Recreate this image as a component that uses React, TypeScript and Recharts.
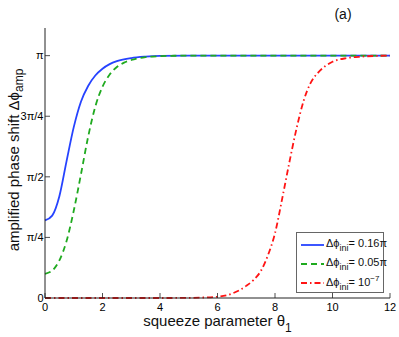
import React from "react";
import { LineChart, Line, XAxis, YAxis, Label } from "recharts";

// phase values are in units of pi
const thetaBlue = [0, 0.25, 0.5, 0.75, 1, 1.25, 1.5, 1.75, 2, 2.25, 2.5, 3, 3.5, 4, 5, 6, 8, 10, 12];
const phaseBlue = [0.32, 0.34, 0.42, 0.565, 0.705, 0.81, 0.875, 0.918, 0.946, 0.965, 0.977, 0.99, 0.996, 0.999, 1, 1, 1, 1, 1];

const thetaGreen = [0, 0.25, 0.5, 0.75, 1, 1.25, 1.5, 1.75, 2, 2.25, 2.5, 2.75, 3, 3.5, 4, 4.5, 5, 6, 8, 10, 12];
const phaseGreen = [0.1, 0.113, 0.155, 0.235, 0.36, 0.51, 0.665, 0.79, 0.872, 0.922, 0.953, 0.971, 0.982, 0.994, 0.998, 0.9995, 1, 1, 1, 1, 1];

const thetaRed = [0, 1, 2, 3, 4, 5, 5.5, 6, 6.5, 7, 7.25, 7.5, 7.75, 8, 8.25, 8.5, 8.75, 9, 9.25, 9.5, 9.75, 10, 10.5, 11, 11.5, 12];
const phaseRed = [0, 0, 0, 0, 0, 0.0005, 0.002, 0.005, 0.018, 0.05, 0.074, 0.11, 0.175, 0.267, 0.41, 0.56, 0.70, 0.815, 0.89, 0.93, 0.957, 0.975, 0.99, 0.996, 0.999, 1];

const xTicks = [0, 2, 4, 6, 8, 10, 12];
const yTicks = [0, 0.25, 0.5, 0.75, 1];
const yTickLabels = ["0", "\u03c0/4", "\u03c0/2", "3\u03c0/4", "\u03c0"];

const legendValues = ["= 0.16\u03c0", "= 0.05\u03c0", "= 10"];

const toRows = (xs: number[], ys: number[]) => xs.map((t, i) => ({ theta: t, phase: ys[i] }));

const series = [
  { key: "blue", data: toRows(thetaBlue, phaseBlue), color: "#2643ff", dash: undefined, label: legendValues[0] },
  { key: "green", data: toRows(thetaGreen, phaseGreen), color: "#1faa1f", dash: "6 4", label: legendValues[1] },
  { key: "red", data: toRows(thetaRed, phaseRed), color: "#ff1414", dash: "6 3 1.5 3", label: legendValues[2] },
];

const FONT = "'Liberation Sans', Arial, Helvetica, sans-serif";
const AXIS = "#222";
const PHI = "\u0394\u03d5";
const yMax = 3.5 / Math.PI;

const BottomTick = (p: any) => (
  <g>
    <line x1={p.x} x2={p.x} y1={p.y - 5} y2={p.y - 10} stroke={AXIS} strokeWidth={0.8} />
    <text x={p.x} y={p.y} dy="0.71em" textAnchor="middle" fontSize={11} fontFamily={FONT} fill="#000">
      {p.payload.value}
    </text>
  </g>
);

const LeftTick = (p: any) => {
  const idx = yTicks.indexOf(p.payload.value);
  return (
    <g>
      <line x1={p.x + 1.5} x2={p.x + 6.5} y1={p.y} y2={p.y} stroke={AXIS} strokeWidth={0.8} />
      <text x={p.x} y={p.y} dy="0.35em" textAnchor="end" fontSize={11} fontFamily={FONT} fill="#000">
        {yTickLabels[idx]}
      </text>
    </g>
  );
};

const TopTick = (p: any) => (
  <line x1={p.x} x2={p.x} y1={p.y} y2={p.y + 5} stroke={AXIS} strokeWidth={0.8} />
);

const RightTick = (p: any) => (
  <line x1={p.x - 5} x2={p.x} y1={p.y} y2={p.y} stroke={AXIS} strokeWidth={0.8} />
);

export default function App() {
  return (
    <div style={{ position: "absolute", left: 0, top: 0, width: 399, height: 337, background: "#fff" }}>
      <LineChart width={399} height={337} margin={{ top: 28, right: 9, left: 0, bottom: 0 }}>
        <XAxis
          xAxisId="b"
          dataKey="theta"
          type="number"
          domain={[0, 12]}
          ticks={xTicks}
          height={39}
          tickSize={0}
          tickMargin={5}
          tickLine={false}
          axisLine={{ stroke: AXIS }}
          tick={BottomTick}
          allowDuplicatedCategory={false}
        >
          <Label
            content={(props: any) => {
              const vb = props.viewBox;
              return (
                <text x={vb.x + vb.width / 2} y={vb.y + 28} textAnchor="middle" fontSize={15} fontFamily={FONT} fill="#111">
                  squeeze parameter {"\u03b8"}
                  <tspan dy={6} fontSize={12}>1</tspan>
                </text>
              );
            }}
          />
        </XAxis>
        <XAxis
          xAxisId="t"
          orientation="top"
          dataKey="theta"
          type="number"
          domain={[0, 12]}
          ticks={xTicks}
          height={0}
          tickSize={0}
          tickMargin={0}
          tickLine={false}
          axisLine={{ stroke: "#666" }}
          tick={TopTick}
          allowDuplicatedCategory={false}
        />
        <YAxis
          yAxisId="l"
          type="number"
          domain={[0, yMax]}
          ticks={yTicks}
          width={45}
          tickSize={0}
          tickMargin={1.5}
          tickLine={false}
          axisLine={{ stroke: AXIS }}
          tick={LeftTick}
        >
          <Label
            content={() => (
              <text
                x={0}
                y={0}
                transform="translate(19, 160) rotate(-90)"
                textAnchor="middle"
                fontSize={15}
                fontFamily={FONT}
                fill="#111"
              >
                amplified phase shift {PHI}
                <tspan dy={4} fontSize={12}>amp</tspan>
              </text>
            )}
          />
        </YAxis>
        <YAxis
          yAxisId="r"
          orientation="right"
          type="number"
          domain={[0, yMax]}
          ticks={yTicks}
          width={0}
          tickSize={0}
          tickMargin={0}
          tickLine={false}
          axisLine={{ stroke: "#666" }}
          tick={RightTick}
        />
        {series.map((s) => (
          <Line
            key={s.key}
            xAxisId="b"
            yAxisId="l"
            data={s.data}
            dataKey="phase"
            type="monotone"
            stroke={s.color}
            strokeWidth={1.8}
            strokeDasharray={s.dash}
            dot={false}
            activeDot={false}
            isAnimationActive={false}
          />
        ))}
      </LineChart>
      <div
        style={{
          position: "absolute",
          left: 343,
          top: 14,
          transform: "translate(-50%, -50%)",
          fontFamily: FONT,
          fontSize: 14,
          color: "#111",
        }}
      >
        (a)
      </div>
      <div
        style={{
          position: "absolute",
          left: 296,
          top: 232,
          width: 86,
          height: 59,
          border: "1.5px solid #666",
          background: "#fff",
          fontFamily: FONT,
          fontSize: 11,
          color: "#111",
        }}
      >
        {series.map((s, i) => (
          <div
            key={s.key}
            style={{ position: "absolute", left: 4, top: 4 + i * 19, height: 16, display: "flex", alignItems: "center" }}
          >
            <svg width={23} height={6} style={{ marginRight: 2 }}>
              <line x1={0} x2={23} y1={3} y2={3} stroke={s.color} strokeWidth={1.8} strokeDasharray={s.dash} />
            </svg>
            <span style={{ whiteSpace: "nowrap" }}>
              {PHI}
              <sub style={{ fontSize: 9, verticalAlign: "-4px" }}>ini</sub>
              {s.label}
              {i === 2 ? <sup style={{ fontSize: 8, verticalAlign: "5px" }}>{"\u22127"}</sup> : null}
            </span>
          </div>
        ))}
      </div>
    </div>
  );
}
